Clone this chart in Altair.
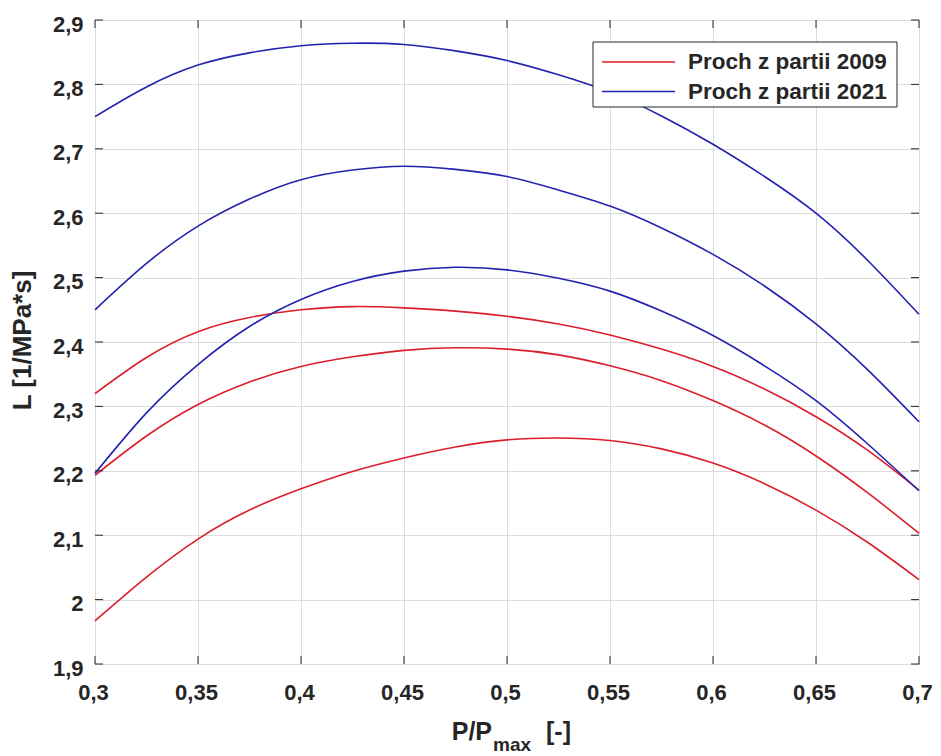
import altair as alt
import pandas as pd

# ---------------- data ----------------
x_vals = [0.3, 0.325, 0.35, 0.375, 0.4, 0.425, 0.45, 0.475, 0.5,
          0.525, 0.55, 0.575, 0.6, 0.625, 0.65, 0.675, 0.7]

# Proch z partii 2009 (red curves)
red_top = [2.320, 2.376, 2.416, 2.438, 2.450, 2.455, 2.453, 2.448, 2.440,
           2.428, 2.411, 2.389, 2.362, 2.327, 2.284, 2.232, 2.170]
red_mid = [2.193, 2.254, 2.303, 2.338, 2.362, 2.377, 2.387, 2.391, 2.389,
           2.380, 2.363, 2.340, 2.309, 2.271, 2.223, 2.166, 2.103]
red_low = [1.967, 2.035, 2.094, 2.139, 2.172, 2.199, 2.220, 2.237, 2.248,
           2.251, 2.247, 2.234, 2.212, 2.180, 2.139, 2.089, 2.031]

# Proch z partii 2021 (blue curves)
blue_top = [2.750, 2.796, 2.830, 2.849, 2.860, 2.864, 2.862, 2.852, 2.837,
            2.815, 2.788, 2.751, 2.707, 2.657, 2.600, 2.527, 2.443]
blue_mid = [2.450, 2.522, 2.580, 2.622, 2.652, 2.667, 2.673, 2.668, 2.657,
            2.636, 2.611, 2.577, 2.536, 2.487, 2.428, 2.357, 2.276]
blue_low = [2.196, 2.290, 2.365, 2.424, 2.466, 2.494, 2.510, 2.516, 2.512,
            2.499, 2.479, 2.448, 2.410, 2.363, 2.309, 2.242, 2.169]

series_names = ["Proch z partii 2009", "Proch z partii 2021"]
x_ticks = [0.3, 0.35, 0.4, 0.45, 0.5, 0.55, 0.6, 0.65, 0.7]
y_ticks = [1.9, 2.0, 2.1, 2.2, 2.3, 2.4, 2.5, 2.6, 2.7, 2.8, 2.9]
y_title = "L [1/MPa*s]"
x_title_parts = ["P/P", "max", "[-]"]

# ---------------- build table ----------------
curves = [
    (series_names[0], red_top), (series_names[0], red_mid), (series_names[0], red_low),
    (series_names[1], blue_top), (series_names[1], blue_mid), (series_names[1], blue_low),
]
rows = []
for cid, (name, vals) in enumerate(curves):
    for xv, yv in zip(x_vals, vals):
        rows.append({"x": xv, "y": yv, "curve": cid, "series": name})
df = pd.DataFrame(rows)

W, H = 824, 644
RED = "#dc1e2c"
BLUE = "#2222b0"
FRAME = "#262626"
GRID = "#dcdcdc"
FONT = "Liberation Sans"

xs = alt.Scale(domain=[0.3, 0.7], nice=False, zero=False)
ys = alt.Scale(domain=[1.9, 2.9], nice=False, zero=False)
label_expr = "replace(format(datum.value, '.2~f'), '.', ',')"

x_axis = alt.Axis(values=x_ticks, labelExpr=label_expr, title=None,
                  ticks=False, tickSize=0, domain=False, grid=True,
                  gridColor=GRID, gridWidth=1,
                  labelFont=FONT, labelFontSize=22, labelFontWeight="bold",
                  labelColor=FRAME, labelPadding=18, labelFlush=False,
                  labelOverlap=False, labelOffset=-2)
y_axis = alt.Axis(values=y_ticks, labelExpr=label_expr, title=y_title,
                  ticks=False, tickSize=0, domain=False, grid=True,
                  gridColor=GRID, gridWidth=1,
                  labelFont=FONT, labelFontSize=22, labelFontWeight="bold",
                  labelColor=FRAME, labelPadding=12, labelFlush=False,
                  labelOverlap=False, labelOffset=4,
                  titleFont=FONT, titleFontSize=26, titleFontWeight="bold",
                  titleColor=FRAME, titleX=-73, titleY=320, titleAngle=270,
                  titleAlign="center", titleBaseline="middle")

lines = alt.Chart(df).mark_line(strokeWidth=1.6, interpolate="natural").encode(
    x=alt.X("x:Q", scale=xs, axis=x_axis),
    y=alt.Y("y:Q", scale=ys, axis=y_axis),
    color=alt.Color("series:N",
                    scale=alt.Scale(domain=series_names, range=[RED, BLUE]),
                    legend=None),
    detail="curve:N",
)

xt = pd.DataFrame({"t": x_ticks})
yt = pd.DataFrame({"t": y_ticks})
TL = 8
tick_b = alt.Chart(xt).mark_rule(color=FRAME, strokeWidth=1).encode(
    x=alt.X("t:Q", scale=xs, axis=x_axis), y=alt.value(H), y2=alt.value(H - TL))
tick_t = alt.Chart(xt).mark_rule(color=FRAME, strokeWidth=1).encode(
    x=alt.X("t:Q", scale=xs, axis=x_axis), y=alt.value(0), y2=alt.value(TL))
tick_l = alt.Chart(yt).mark_rule(color=FRAME, strokeWidth=1).encode(
    y=alt.Y("t:Q", scale=ys, axis=y_axis), x=alt.value(0), x2=alt.value(TL))
tick_r = alt.Chart(yt).mark_rule(color=FRAME, strokeWidth=1).encode(
    y=alt.Y("t:Q", scale=ys, axis=y_axis), x=alt.value(W), x2=alt.value(W - TL))

one = alt.Data(values=[{"k": 1}])

# legend (manual, MATLAB style)
leg_box = alt.Chart(one).mark_rect(fill="white", stroke=FRAME, strokeWidth=1).encode(
    x=alt.value(498), x2=alt.value(802), y=alt.value(22), y2=alt.value(87))
leg_layers = [leg_box]
for i, (name, col) in enumerate(zip(series_names, [RED, BLUE])):
    ly = 42 + i * 29.5
    leg_layers.append(alt.Chart(one).mark_rule(color=col, strokeWidth=1.6).encode(
        x=alt.value(507), x2=alt.value(580), y=alt.value(ly)))
    leg_layers.append(alt.Chart(one).mark_text(
        text=name, align="left", baseline="alphabetic", font=FONT, fontSize=22.5,
        fontWeight="bold", color=FRAME).encode(x=alt.value(593), y=alt.value(ly + 7)))

# x title with subscript
xt1 = alt.Chart(one).mark_text(text=x_title_parts[0], align="right", baseline="alphabetic",
                               font=FONT, fontSize=25, fontWeight="bold", color=FRAME
                               ).encode(x=alt.value(397), y=alt.value(720))
xt2 = alt.Chart(one).mark_text(text=x_title_parts[1], align="left", baseline="alphabetic",
                               font=FONT, fontSize=19, fontWeight="bold", color=FRAME
                               ).encode(x=alt.value(398), y=alt.value(731))
xt3 = alt.Chart(one).mark_text(text=x_title_parts[2], align="left", baseline="alphabetic",
                               font=FONT, fontSize=25, fontWeight="bold", color=FRAME
                               ).encode(x=alt.value(451), y=alt.value(720))

chart = alt.layer(lines, tick_b, tick_t, tick_l, tick_r, *leg_layers, xt1, xt2, xt3).properties(
    width=W, height=H,
    padding={"left": 87, "top": 12, "right": 14, "bottom": 90},
    autosize=alt.AutoSizeParams(type="none"),
    background="white",
).configure_view(stroke=FRAME, strokeWidth=1)

chart.save("out.html", embed_options={"renderer": "svg", "actions": False})
